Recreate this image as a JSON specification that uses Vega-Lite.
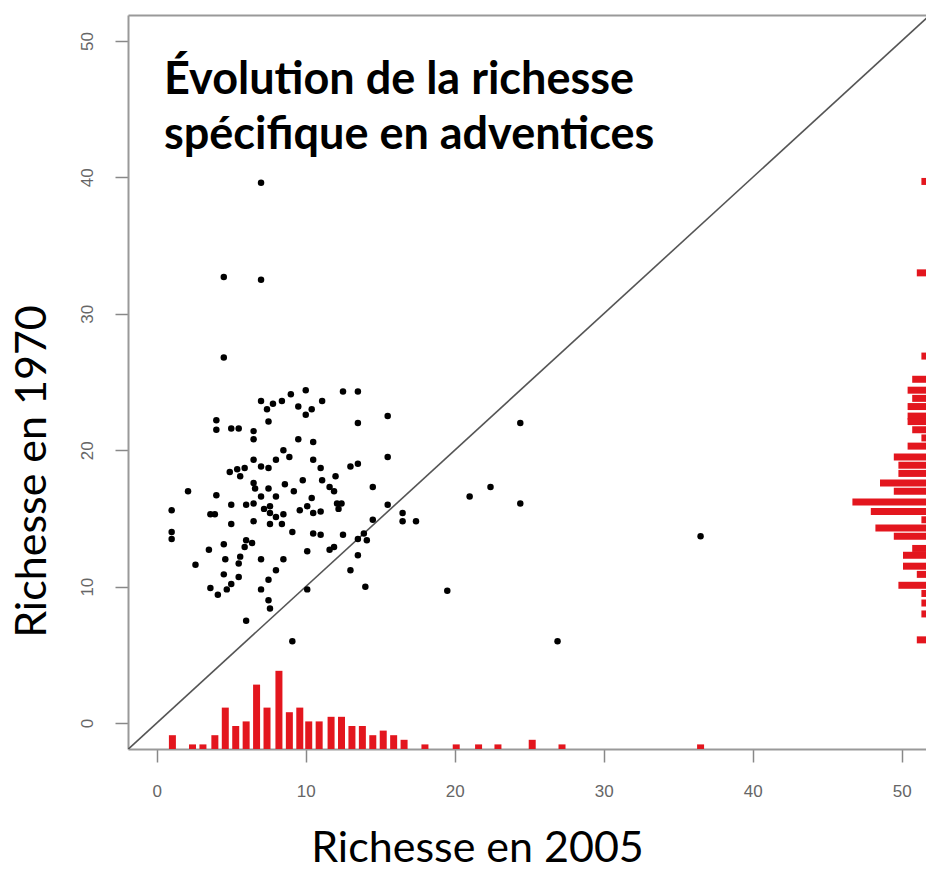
{
  "$schema": "https://vega.github.io/schema/vega-lite/v6.json",
  "autosize": {"type": "none"},
  "padding": {"left": 128, "top": 15, "right": 0, "bottom": 126},
  "width": 798,
  "height": 734,
  "background": "white",
  "config": {"view": {"stroke": null}},
  "title": {
    "text": ["Évolution de la richesse", "spécifique en adventices"],
    "anchor": "start", "frame": "group", "orient": "top",
    "offset": -143, "dx": 36,
    "font": "Lato", "fontSize": 45, "fontWeight": "bold", "color": "black", "lineHeight": 55
  },
  "datasets": {
    "pts": [
      {"r2005": 10.0, "r1970": 24.4}, {"r2005": 9.0, "r1970": 24.1}, {"r2005": 8.4, "r1970": 23.6}, {"r2005": 7.8, "r1970": 23.4},
      {"r2005": 7.0, "r1970": 23.6}, {"r2005": 12.5, "r1970": 24.3}, {"r2005": 13.5, "r1970": 24.3}, {"r2005": 11.1, "r1970": 23.6},
      {"r2005": 10.4, "r1970": 23.0}, {"r2005": 10.0, "r1970": 22.6}, {"r2005": 9.5, "r1970": 23.2}, {"r2005": 7.4, "r1970": 23.0},
      {"r2005": 7.5, "r1970": 22.1}, {"r2005": 4.0, "r1970": 22.2}, {"r2005": 4.0, "r1970": 21.5}, {"r2005": 5.0, "r1970": 21.6},
      {"r2005": 5.5, "r1970": 21.6}, {"r2005": 6.5, "r1970": 21.4}, {"r2005": 6.5, "r1970": 20.8}, {"r2005": 13.5, "r1970": 22.0},
      {"r2005": 15.5, "r1970": 22.5}, {"r2005": 9.5, "r1970": 20.8}, {"r2005": 10.5, "r1970": 20.6}, {"r2005": 15.5, "r1970": 19.5},
      {"r2005": 8.5, "r1970": 20.0}, {"r2005": 8.9, "r1970": 19.5}, {"r2005": 8.0, "r1970": 19.3}, {"r2005": 7.5, "r1970": 18.7},
      {"r2005": 7.0, "r1970": 18.8}, {"r2005": 6.5, "r1970": 19.3}, {"r2005": 5.9, "r1970": 18.7}, {"r2005": 5.4, "r1970": 18.6},
      {"r2005": 4.9, "r1970": 18.4}, {"r2005": 5.6, "r1970": 18.1}, {"r2005": 10.5, "r1970": 19.3}, {"r2005": 11.0, "r1970": 18.7},
      {"r2005": 13.0, "r1970": 18.8}, {"r2005": 13.5, "r1970": 19.0}, {"r2005": 6.5, "r1970": 17.6}, {"r2005": 6.6, "r1970": 17.2},
      {"r2005": 7.5, "r1970": 17.2}, {"r2005": 8.6, "r1970": 17.5}, {"r2005": 9.2, "r1970": 17.0}, {"r2005": 9.8, "r1970": 17.8},
      {"r2005": 11.1, "r1970": 17.8}, {"r2005": 11.6, "r1970": 17.3}, {"r2005": 12.0, "r1970": 18.1}, {"r2005": 11.9, "r1970": 17.0},
      {"r2005": 2.1, "r1970": 17.0}, {"r2005": 4.0, "r1970": 16.7}, {"r2005": 1.0, "r1970": 15.6}, {"r2005": 14.5, "r1970": 17.3},
      {"r2005": 5.0, "r1970": 16.0}, {"r2005": 6.0, "r1970": 16.0}, {"r2005": 6.5, "r1970": 16.1}, {"r2005": 7.0, "r1970": 16.6},
      {"r2005": 7.2, "r1970": 15.7}, {"r2005": 8.0, "r1970": 16.6}, {"r2005": 7.6, "r1970": 15.9}, {"r2005": 7.6, "r1970": 15.4},
      {"r2005": 8.0, "r1970": 15.1}, {"r2005": 8.5, "r1970": 15.3}, {"r2005": 7.6, "r1970": 14.6}, {"r2005": 8.4, "r1970": 14.6},
      {"r2005": 3.6, "r1970": 15.3}, {"r2005": 3.9, "r1970": 15.3}, {"r2005": 10.1, "r1970": 15.9}, {"r2005": 10.4, "r1970": 16.5},
      {"r2005": 9.6, "r1970": 15.6}, {"r2005": 10.5, "r1970": 15.4}, {"r2005": 11.0, "r1970": 15.5}, {"r2005": 12.1, "r1970": 16.1},
      {"r2005": 12.4, "r1970": 16.1}, {"r2005": 12.2, "r1970": 15.7}, {"r2005": 5.0, "r1970": 14.6}, {"r2005": 6.5, "r1970": 14.8},
      {"r2005": 1.0, "r1970": 14.0}, {"r2005": 1.0, "r1970": 13.5}, {"r2005": 15.5, "r1970": 16.0}, {"r2005": 16.5, "r1970": 15.4},
      {"r2005": 16.5, "r1970": 14.8}, {"r2005": 9.1, "r1970": 14.0}, {"r2005": 10.5, "r1970": 13.9}, {"r2005": 11.0, "r1970": 13.8},
      {"r2005": 12.5, "r1970": 13.8}, {"r2005": 6.0, "r1970": 13.4}, {"r2005": 6.4, "r1970": 13.2}, {"r2005": 5.9, "r1970": 12.9},
      {"r2005": 13.9, "r1970": 13.9}, {"r2005": 14.1, "r1970": 13.4}, {"r2005": 13.5, "r1970": 13.5}, {"r2005": 14.5, "r1970": 14.9},
      {"r2005": 3.5, "r1970": 12.7}, {"r2005": 4.5, "r1970": 13.1}, {"r2005": 4.6, "r1970": 12.0}, {"r2005": 5.6, "r1970": 12.2},
      {"r2005": 5.5, "r1970": 11.7}, {"r2005": 2.6, "r1970": 11.6}, {"r2005": 7.0, "r1970": 12.0}, {"r2005": 8.5, "r1970": 12.0},
      {"r2005": 10.1, "r1970": 12.6}, {"r2005": 11.6, "r1970": 12.7}, {"r2005": 11.9, "r1970": 12.9}, {"r2005": 13.5, "r1970": 12.3},
      {"r2005": 8.0, "r1970": 11.2}, {"r2005": 7.5, "r1970": 10.5}, {"r2005": 7.0, "r1970": 9.8}, {"r2005": 13.0, "r1970": 11.2},
      {"r2005": 3.6, "r1970": 9.9}, {"r2005": 4.1, "r1970": 9.4}, {"r2005": 4.7, "r1970": 9.8}, {"r2005": 5.0, "r1970": 10.2},
      {"r2005": 5.5, "r1970": 10.7}, {"r2005": 4.5, "r1970": 10.9}, {"r2005": 10.1, "r1970": 9.8}, {"r2005": 14.0, "r1970": 10.0},
      {"r2005": 7.5, "r1970": 9.0}, {"r2005": 7.6, "r1970": 8.4}, {"r2005": 6.0, "r1970": 7.5}, {"r2005": 9.1, "r1970": 6.0},
      {"r2005": 7.0, "r1970": 39.6}, {"r2005": 4.5, "r1970": 32.7}, {"r2005": 7.0, "r1970": 32.5}, {"r2005": 4.5, "r1970": 26.8},
      {"r2005": 17.4, "r1970": 14.8}, {"r2005": 21.0, "r1970": 16.6}, {"r2005": 22.4, "r1970": 17.3}, {"r2005": 24.4, "r1970": 22.0},
      {"r2005": 24.4, "r1970": 16.1}, {"r2005": 19.5, "r1970": 9.7}, {"r2005": 26.9, "r1970": 6.0}, {"r2005": 36.5, "r1970": 13.7}
    ],
    "histx": [
      {"x": 1.05, "n": 3}, {"x": 2.4, "n": 1}, {"x": 3.1, "n": 1}, {"x": 3.9, "n": 3}, {"x": 4.6, "n": 9},
      {"x": 5.3, "n": 5}, {"x": 6.0, "n": 6}, {"x": 6.7, "n": 14}, {"x": 7.4, "n": 9}, {"x": 8.2, "n": 17},
      {"x": 8.9, "n": 8}, {"x": 9.6, "n": 9}, {"x": 10.2, "n": 6}, {"x": 10.9, "n": 6}, {"x": 11.7, "n": 7},
      {"x": 12.4, "n": 7}, {"x": 13.1, "n": 5}, {"x": 13.8, "n": 5}, {"x": 14.5, "n": 3}, {"x": 15.2, "n": 4},
      {"x": 15.9, "n": 3}, {"x": 16.6, "n": 2}, {"x": 18.0, "n": 1}, {"x": 20.1, "n": 1}, {"x": 21.6, "n": 1},
      {"x": 22.9, "n": 1}, {"x": 25.2, "n": 2}, {"x": 27.2, "n": 1}, {"x": 36.5, "n": 1}
    ],
    "histy": [
      {"y": 39.7, "n": 1}, {"y": 33.0, "n": 2}, {"y": 26.9, "n": 1}, {"y": 25.2, "n": 3}, {"y": 24.4, "n": 4},
      {"y": 23.8, "n": 3}, {"y": 23.2, "n": 4}, {"y": 22.5, "n": 4}, {"y": 22.1, "n": 4}, {"y": 21.5, "n": 3},
      {"y": 20.9, "n": 1}, {"y": 20.3, "n": 4}, {"y": 19.5, "n": 7}, {"y": 18.9, "n": 6}, {"y": 18.3, "n": 6},
      {"y": 17.6, "n": 10}, {"y": 17.0, "n": 7}, {"y": 16.2, "n": 16}, {"y": 15.5, "n": 12}, {"y": 14.9, "n": 1},
      {"y": 14.3, "n": 11}, {"y": 13.7, "n": 7}, {"y": 12.8, "n": 3}, {"y": 12.3, "n": 5}, {"y": 11.5, "n": 5},
      {"y": 10.9, "n": 2}, {"y": 10.1, "n": 6}, {"y": 9.5, "n": 1}, {"y": 8.8, "n": 1}, {"y": 8.0, "n": 1},
      {"y": 6.1, "n": 2}
    ],
    "diag": [{"v": -1.93}, {"v": 52.5}]
  },
  "resolve": {"scale": {"x": "independent", "y": "independent"}, "axis": {"x": "independent", "y": "independent"}},
  "layer": [
    {
      "data": {"name": "histx"},
      "mark": {"type": "rule", "color": "#e3161e", "strokeWidth": 7, "strokeCap": "butt"},
      "encoding": {
        "x": {"field": "x", "type": "quantitative", "scale": {"domain": [-1.93, 51.63], "nice": false, "zero": false},
              "axis": {"orient": "top", "ticks": false, "labels": false, "title": null, "grid": false, "domainColor": "#999", "domainWidth": 2}},
        "y": {"field": "n", "type": "quantitative", "scale": {"domain": [0, 159.6], "nice": false}, "axis": null},
        "y2": {"datum": 0}
      }
    },
    {
      "data": {"name": "histy"},
      "mark": {"type": "rule", "color": "#e3161e", "strokeWidth": 7, "strokeCap": "butt"},
      "encoding": {
        "y": {"field": "y", "type": "quantitative", "scale": {"domain": [-1.9, 51.9], "nice": false, "zero": false}, "axis": null},
        "x": {"field": "n", "type": "quantitative", "scale": {"domain": [0, 173.5], "nice": false, "reverse": true}, "axis": null},
        "x2": {"datum": 0}
      }
    },
    {
      "data": {"name": "diag"},
      "mark": {"type": "line", "color": "#555555", "strokeWidth": 1.6, "clip": true},
      "encoding": {
        "x": {"field": "v", "type": "quantitative", "scale": {"domain": [-1.93, 51.63], "nice": false, "zero": false}, "axis": null},
        "y": {"field": "v", "type": "quantitative", "scale": {"domain": [-1.9, 51.9], "nice": false, "zero": false}, "axis": null}
      }
    },
    {
      "data": {"name": "pts"},
      "mark": {"type": "circle", "color": "black", "size": 42, "opacity": 1},
      "encoding": {
        "x": {"field": "r2005", "type": "quantitative",
              "scale": {"domain": [-1.93, 51.63], "nice": false, "zero": false},
              "axis": {"orient": "bottom", "values": [0, 10, 20, 30, 40, 50], "grid": false,
                       "title": "Richesse en 2005", "titleFont": "Lato", "titleFontSize": 43, "titleFontWeight": "normal", "titleColor": "black",
                       "titleX": 349, "titleY": 112, "titleAlign": "center", "titleBaseline": "alphabetic", "titleAnchor": null,
                       "domainColor": "#999", "domainWidth": 2, "tickColor": "#888", "tickWidth": 1.5, "tickSize": 13,
                       "labelFont": "Liberation Sans", "labelFontSize": 17, "labelColor": "#666", "labelPadding": 21, "labelBaseline": "top"}},
        "y": {"field": "r1970", "type": "quantitative",
              "scale": {"domain": [-1.9, 51.9], "nice": false, "zero": false},
              "axis": {"orient": "left", "values": [0, 10, 20, 30, 40, 50], "grid": false,
                       "title": "Richesse en 1970", "titleFont": "Lato", "titleFontSize": 43, "titleFontWeight": "normal", "titleColor": "black",
                       "titleAngle": -90, "titleX": -83, "titleY": 456, "titleAlign": "center", "titleBaseline": "alphabetic", "titleAnchor": null,
                       "domainColor": "#999", "domainWidth": 2, "tickColor": "#888", "tickWidth": 1.5, "tickSize": 13,
                       "labelFont": "Liberation Sans", "labelFontSize": 17, "labelColor": "#666", "labelPadding": 23,
                       "labelAngle": -90, "labelAlign": "center", "labelBaseline": "alphabetic"}}
      }
    }
  ]
}
